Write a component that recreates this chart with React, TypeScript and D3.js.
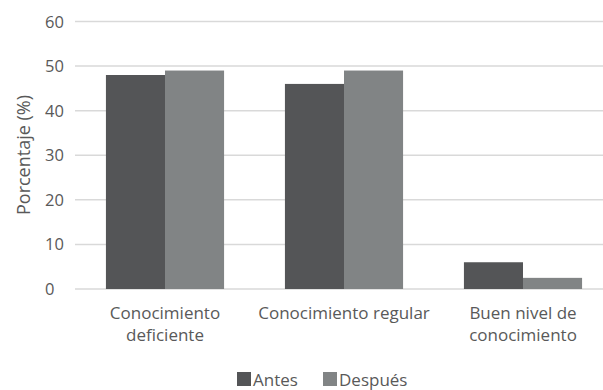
import React from "react";
import * as d3 from "d3";

const categories = [["Conocimiento", "deficiente"], ["Conocimiento regular"], ["Buen nivel de", "conocimiento"]];
const seriesNames = ["Antes", "Después"];
const antes = [48, 46, 6];
const despues = [49, 49, 2.5];
const yTicks = [0, 10, 20, 30, 40, 50, 60];
const colors = ["#545557", "#818485"];

export default function App() {
  const W = 603, H = 390;
  const font = "'Open Sans', sans-serif";
  const textColor = "#595959";
  const x = d3.scaleBand<number>().domain([0, 1, 2]).range([75.5, 612.5]).paddingInner(0.34).paddingOuter(0.17);
  const y = d3.scaleLinear().domain([0, 60]).range([289, 21.5]);
  const inner = d3.scaleBand<number>().domain([0, 1]).range([0, x.bandwidth()]);
  const series = [antes, despues];
  return (
    <svg width={W} height={H} style={{ position: "absolute", left: 0, top: 0, background: "#fff" }}>
      {yTicks.map((t) => (
        <g key={t}>
          <line x1={75} x2={603} y1={y(t)} y2={y(t)} stroke="#d9d9d9" strokeWidth={1.5} />
          <text x={45} y={y(t) + 6} textAnchor="start" fontFamily={font} fontSize={16.5} fill={textColor}>{t}</text>
        </g>
      ))}
      {series.map((vals, si) =>
        vals.map((v, ci) => (
          <rect key={`${si}-${ci}`} x={(x(ci) as number) + (inner(si) as number)} y={y(v)} width={inner.bandwidth()} height={y(0) - y(v)} fill={colors[si]} />
        ))
      )}
      {categories.map((lines, ci) => (
        <text key={ci} textAnchor="middle" fontFamily={font} fontSize={17} fill={textColor}>
          {lines.map((l, li) => (
            <tspan key={li} x={(x(ci) as number) + x.bandwidth() / 2} y={319 + li * 21.5}>{l}</tspan>
          ))}
        </text>
      ))}
      <text transform={`translate(30,155) rotate(-90)`} textAnchor="middle" fontFamily={font} fontSize={18} fill={textColor}>Porcentaje (%)</text>
      {seriesNames.map((n, i) => {
        const lx = [237, 323][i];
        return (
          <g key={n}>
            <rect x={lx} y={372} width={14} height={14} fill={colors[i]} />
            <text x={lx + 16} y={386} fontFamily={font} fontSize={17} fill={textColor}>{n}</text>
          </g>
        );
      })}
    </svg>
  );
}
